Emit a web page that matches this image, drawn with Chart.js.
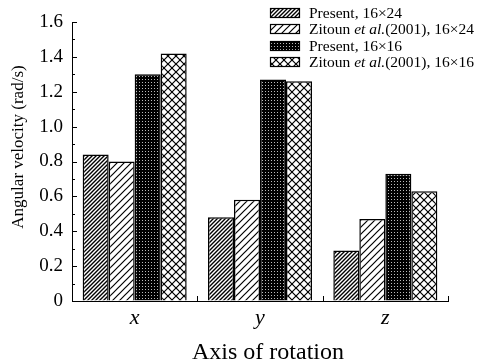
<!DOCTYPE html>
<html><head><meta charset="utf-8">
<script src="https://cdn.jsdelivr.net/npm/chart.js@4/dist/chart.umd.min.js"></script>
<style>html,body{margin:0;padding:0;background:#fff;} #wrap{width:478px;height:362px;}</style>
</head><body><div id="wrap"><canvas id="c"></canvas></div>
<script>
var categories = ["x", "y", "z"];
var present1624 = [0.84, 0.48, 0.29];
var zitoun1624 = [0.80, 0.58, 0.47];
var present1616 = [1.30, 1.27, 0.73];
var zitoun1616 = [1.42, 1.26, 0.63];
var seriesLabels = ["Present, 16\u00d724", "Zitoun et al.(2001), 16\u00d724", "Present, 16\u00d716", "Zitoun et al.(2001), 16\u00d716"];
// pieces of each legend entry: [text, italic]
var legendParts = [
  [["Present, 16\u00d724", false]],
  [["Zitoun ", false], ["et al.", true], ["(2001), 16\u00d724", false]],
  [["Present, 16\u00d716", false]],
  [["Zitoun ", false], ["et al.", true], ["(2001), 16\u00d716", false]]
];
var yMin = 0, yMax = 1.6, yStep = 0.2;
var SERIF = "'Liberation Serif', 'Times New Roman', serif";

var canvas = document.getElementById("c");
var mainCtx = canvas.getContext("2d");

function tile(size, bg, draw){
  var c = document.createElement("canvas"); c.width = size; c.height = size;
  var g = c.getContext("2d");
  g.fillStyle = bg; g.fillRect(0, 0, size, size);
  draw(g, size);
  return mainCtx.createPattern(c, "repeat");
}
function diag(g, s, up){
  g.beginPath();
  if (up){
    g.moveTo(-1, s + 1); g.lineTo(s + 1, -1);
    g.moveTo(-1, 1); g.lineTo(1, -1);
    g.moveTo(s - 1, s + 1); g.lineTo(s + 1, s - 1);
  } else {
    g.moveTo(-1, -1); g.lineTo(s + 1, s + 1);
    g.moveTo(s - 1, -1); g.lineTo(s + 1, 1);
    g.moveTo(-1, s - 1); g.lineTo(1, s + 1);
  }
  g.stroke();
}
var pats = [
  tile(4, "#fff", function(g, s){ g.strokeStyle = "#000"; g.lineWidth = 1.4; diag(g, s, true); }),
  tile(7, "#fff", function(g, s){ g.strokeStyle = "#000"; g.lineWidth = 1.2; diag(g, s, true); }),
  tile(3, "#000", function(g, s){ g.fillStyle = "#bbb"; g.fillRect(1, 1, 1, 1); }),
  tile(8, "#fff", function(g, s){ g.strokeStyle = "#000"; g.lineWidth = 1.2; diag(g, s, true); diag(g, s, false); })
];
var seriesData = [present1624, zitoun1624, present1616, zitoun1616];

var decor = {
  id: "decor",
  afterDraw: function(chart){
    var ctx = chart.ctx, ys = chart.scales.y, xs = chart.scales.x, a = chart.chartArea;
    ctx.save();
    ctx.strokeStyle = "#000"; ctx.lineWidth = 1;
    ctx.beginPath();
    // inward ticks on y, major every 0.2 and minor every 0.1
    for (var v = 0; v <= 16; v++){
      var py = Math.round(ys.getPixelForValue(v / 10)) + 0.5;
      var len = (v % 2 === 0) ? 5 : 3;
      ctx.moveTo(a.left, py); ctx.lineTo(a.left + len, py);
    }
    // x ticks at category boundaries
    for (var i = 0; i < categories.length; i++){
      var px = Math.round(xs.getPixelForValue(i + 0.5)) + 0.5;
      ctx.moveTo(px, a.bottom); ctx.lineTo(px, a.bottom - 5);
    }
    ctx.stroke();

    ctx.fillStyle = "#000";
    // x title
    ctx.font = "24px " + SERIF;
    ctx.textAlign = "center"; ctx.textBaseline = "alphabetic";
    ctx.fillText("Axis of rotation", 268, 359);

    // y title
    ctx.font = "17px " + SERIF;
    ctx.textBaseline = "middle";
    ctx.translate(19, 147); ctx.rotate(-Math.PI / 2);
    ctx.fillText("Angular velocity (rad/s)", 0, 0);
    ctx.setTransform(1, 0, 0, 1, 0, 0);

    // legend
    ctx.textAlign = "left";
    for (var k = 0; k < legendParts.length; k++){
      var cy = Math.round(13 + k * 16.4);
      ctx.fillStyle = pats[k];
      ctx.fillRect(270, cy - 5, 30, 10);
      ctx.lineWidth = 1.2; ctx.strokeStyle = "#000";
      ctx.strokeRect(270.5, cy - 4.5, 29, 9);
      var tx = 309;
      ctx.fillStyle = "#000";
      for (var p = 0; p < legendParts[k].length; p++){
        var part = legendParts[k][p];
        ctx.font = (part[1] ? "italic " : "") + "15.5px " + SERIF;
        ctx.fillText(part[0], tx, cy + 1);
        tx += ctx.measureText(part[0]).width;
      }
    }
    ctx.restore();
  }
};

var datasets = [];
for (var d = 0; d < seriesData.length; d++){
  datasets.push({ label: seriesLabels[d], data: seriesData[d], backgroundColor: pats[d], borderColor: "#000", borderWidth: 1.5 });
}

new Chart(canvas, {
  type: "bar",
  data: { labels: categories, datasets: datasets },
  plugins: [decor],
  options: {
    responsive: true, maintainAspectRatio: false, animation: false,
    layout: { padding: { top: 22, right: 30, left: 0, bottom: 0 } },
    datasets: { bar: { categoryPercentage: 0.83, barPercentage: 1 } },
    plugins: { legend: { display: false }, tooltip: { enabled: false } },
    scales: {
      x: {
        grid: { display: true, drawOnChartArea: false, drawTicks: false },
        border: { display: true, color: "#000", width: 1 },
        ticks: { color: "#000", padding: 4, font: { family: SERIF, size: 22, style: "italic" } },
        afterFit: function(s){ s.height = 61; }
      },
      y: {
        min: yMin, max: yMax,
        grid: { display: true, drawOnChartArea: false, drawTicks: false },
        border: { display: true, color: "#000", width: 1 },
        ticks: { stepSize: yStep, color: "#000", padding: 9, font: { family: SERIF, size: 19 },
          callback: function(v){ return v === 0 ? "0" : v.toFixed(1); } },
        afterFit: function(s){ s.width = 72; }
      }
    }
  }
});
</script></body></html>
